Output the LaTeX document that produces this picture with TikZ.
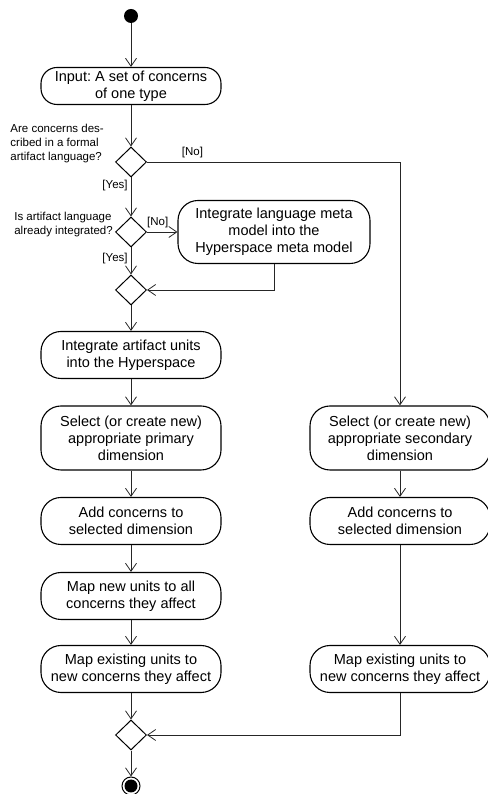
\documentclass[tikz,border=0pt]{standalone}
\usepackage{fontspec}
\setmainfont{Liberation Sans}
\usepackage{tikz}
\usetikzlibrary{positioning}
\usetikzlibrary{arrows.meta, shapes.geometric}
\frenchspacing

\begin{document}
\begin{tikzpicture}[x=1pt, y=1pt,
  act/.style = {draw, line width=1.1pt, rounded corners=20pt, align=center, minimum width=180pt, minimum height=47pt, inner sep=0pt, font=\fontsize{14.5}{17}\selectfont},
  dec/.style = {draw, diamond, line width=1pt, minimum width=31pt, minimum height=30pt, inner sep=0pt},
  startdot/.style = {circle, fill=black, minimum size=14pt, inner sep=0pt},
  stopdot/.style = {circle, draw, line width=1pt, minimum size=18pt, inner sep=0pt, path picture={\fill (path picture bounding box.center) circle (6.5pt);}},
  flow/.style = {draw=black!85, line width=0.8pt, -{Straight Barb[length=8pt, width=11pt]}},
  lbl/.style = {font=\fontsize{11.5}{14}\selectfont, align=left, inner sep=0pt}]
\useasboundingbox (0,0) rectangle (487,794);

\node[startdot] (start) at (131,778) {};
\node[act, minimum height=37pt, rounded corners=16pt] (input) [below of=start, node distance=70pt] {Input: A set of concerns\\of one type};
\node[dec] (d1) [below of=input, node distance=76pt] {};
\node[dec] (d2) [below of=d1, node distance=70pt] {};
\node[act, minimum width=192pt, minimum height=63pt] (lang) [right of=d2, node distance=143pt] {Integrate language meta\\model into the\\Hyperspace meta model};
\node[dec] (m1) [below of=d2, node distance=58pt] {};
\node[act] (units) [below of=m1, node distance=65pt] {Integrate artifact units\\into the Hyperspace};
\node[act, minimum height=64pt] (primary) [below of=units, node distance=83pt] {Select (or create new)\\appropriate primary\\dimension};
\node[act] (addprim) [below of=primary, node distance=83pt] {Add concerns to\\selected dimension};
\node[act] (mapnew) [below of=addprim, node distance=75pt] {Map new units to all\\concerns they affect};
\node[act] (mapold) [below of=mapnew, node distance=73pt] {Map existing units to\\new concerns they affect};
\node[dec] (m2) [below of=mapold, node distance=66pt] {};
\node[stopdot] (stop) [below of=m2, node distance=51pt] {};

\node[act, minimum height=64pt] (second) [right of=primary, node distance=269pt] {Select (or create new)\\appropriate secondary\\dimension};
\node[act] (addsec) [right of=addprim, node distance=269pt] {Add concerns to\\selected dimension};
\node[act] (mapsec) [right of=mapold, node distance=269pt] {Map existing units to\\new concerns they affect};

% questions at the decisions
\node[lbl, anchor=south east] (q1) at ([xshift=-11pt, yshift=-1pt]d1.west) {Are concerns des-\\cribed in a formal\\artifact language?};
\node[lbl, anchor=south east] (q2) at ([xshift=-2pt, yshift=-5pt]d2.west) {Is artifact language\\already integrated?};

\path[flow] (start) -- (input);
\path[flow] (input) -- (d1);
\path[flow] (d1) -- node[lbl, left=3pt, pos=0.2] {[Yes]} (d2);
\path[flow] (d1.east) -| node[lbl, above=4pt, pos=0.09] {[No]} (second);
\path[flow] (d2) -- node[lbl, above=4pt, pos=0.35] {[No]} (lang);
\path[flow] (d2) -- node[lbl, left=3pt, pos=0.4] {[Yes]} (m1);
\path[flow] (lang) |- (m1);
\path[flow] (m1) -- (units);
\path[flow] (units) -- (primary);
\path[flow] (primary) -- (addprim);
\path[flow] (addprim) -- (mapnew);
\path[flow] (mapnew) -- (mapold);
\path[flow] (mapold) -- (m2);
\path[flow] (second) -- (addsec);
\path[flow] (addsec) -- (mapsec);
\path[flow] (mapsec) |- (m2);
\path[flow] (m2) -- (stop);
\end{tikzpicture}
\end{document}
